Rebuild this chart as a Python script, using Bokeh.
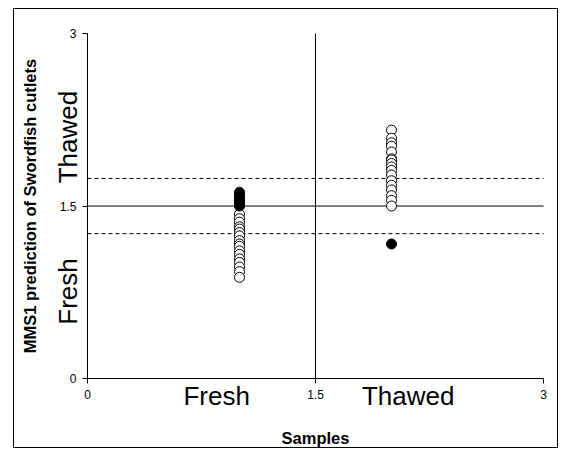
from bokeh.plotting import figure
from bokeh.models import Label, FixedTicker, Range1d, ColumnDataSource
from bokeh.embed import file_html
from bokeh.resources import INLINE

# ---- data ----
groups = ["Fresh", "Thawed"]
group_x = [1, 2]

fresh_open = [1.43, 1.39, 1.36, 1.32, 1.30, 1.27, 1.24, 1.20, 1.17, 1.15,
              1.11, 1.08, 1.04, 1.01, 0.97, 0.93, 0.88]
fresh_filled = [1.62, 1.60, 1.58, 1.57, 1.56, 1.55, 1.54, 1.53, 1.52, 1.51, 1.50]
thawed_open = [2.16, 2.09, 2.05, 2.02, 1.97, 1.91, 1.90, 1.87, 1.84, 1.81,
               1.77, 1.72, 1.68, 1.64, 1.59, 1.55, 1.50]
thawed_filled = [1.17]

threshold = 1.5
upper_limit = 1.74
lower_limit = 1.26

x_ticks = [0, 1.5, 3]
y_ticks = [0, 1.5, 3]

FONT = "Liberation Sans"
x_lo, x_hi = x_ticks[0], x_ticks[-1]
y_lo, y_hi = y_ticks[0], y_ticks[-1]

p = figure(width=545, height=440, output_backend="svg", toolbar_location=None,
           x_range=Range1d(-0.480, 3.105), y_range=Range1d(-0.617, 3.209),
           min_border_left=0, min_border_right=0, min_border_top=0,
           min_border_bottom=0)
p.margin = (8, 0, 0, 13)
p.styles = {"border": "1px solid black"}
p.outline_line_color = None
p.grid.visible = False
p.background_fill_color = "white"
p.border_fill_color = "white"

for ax in (p.xaxis[0], p.yaxis[0]):
    ax.fixed_location = 0
    ax.bounds = (0, 3)
    ax.axis_line_color = "black"
    ax.major_tick_line_color = "black"
    ax.major_tick_out = 5
    ax.major_tick_in = 0
    ax.minor_tick_line_color = None
    ax.major_label_text_font = FONT
    ax.major_label_text_font_size = "12px"
    ax.major_label_text_color = "black"
    ax.axis_label_text_font = FONT
    ax.axis_label_text_font_style = "bold"
    ax.axis_label_text_font_size = "16.5px"
    ax.axis_label_text_color = "black"

p.xaxis[0].ticker = FixedTicker(ticks=x_ticks)
p.yaxis[0].ticker = FixedTicker(ticks=y_ticks)
p.xaxis[0].major_label_overrides = {0: "0", 1.5: "1.5", 3: "3"}
p.yaxis[0].major_label_overrides = {0: "0", 1.5: "1.5", 3: "3"}
p.xaxis[0].axis_label = "Samples"
p.yaxis[0].axis_label = "MMS1 prediction of Swordfish cutlets"
p.xaxis[0].major_label_standoff = 6
p.yaxis[0].major_label_standoff = 6
p.xaxis[0].axis_label_standoff = 27
p.yaxis[0].axis_label_standoff = 18

# reference lines
p.segment(x0=[x_lo, threshold], y0=[threshold, y_lo], x1=[x_hi, threshold],
          y1=[threshold, y_hi], line_color="black", line_width=1)
p.segment(x0=[x_lo, x_lo], y0=[upper_limit, lower_limit], x1=[x_hi, x_hi],
          y1=[upper_limit, lower_limit], line_color="black", line_width=1,
          line_dash="4 3")

# points
p.scatter([group_x[0]] * len(fresh_open), fresh_open, size=10, marker="circle",
          fill_color="white", line_color="black", line_width=1)
p.scatter([group_x[0]] * len(fresh_filled), fresh_filled, size=10, marker="circle",
          fill_color="black", line_color="black", line_width=1)
p.scatter([group_x[1]] * len(thawed_open), thawed_open, size=10, marker="circle",
          fill_color="white", line_color="black", line_width=1)
p.scatter([group_x[1]] * len(thawed_filled), thawed_filled, size=10, marker="circle",
          fill_color="black", line_color="black", line_width=1)

# category labels
def big(x, y, text, angle=0.0):
    p.add_layout(Label(x=x, y=y, text=text, text_align="center",
                       text_baseline="middle", text_font=FONT,
                       text_font_size="26px", text_color="black", angle=angle))

big(0.85, -0.148, groups[0])
big(2.11, -0.148, groups[1])
big(-0.13, 2.10, groups[1], 1.5708)
big(-0.13, 0.757, groups[0], 1.5708)

open("out.html", "w").write(file_html(p, INLINE))
